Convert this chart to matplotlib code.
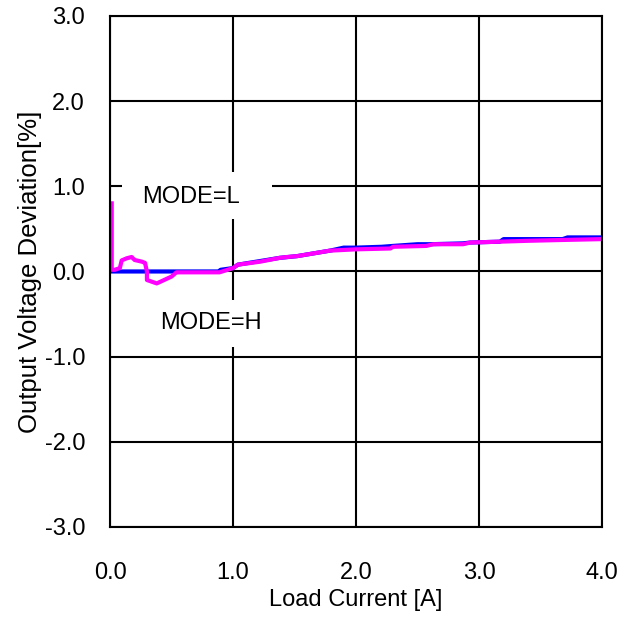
import matplotlib
matplotlib.use("Agg")
import matplotlib.pyplot as plt
from matplotlib.patches import Rectangle

# MODE=L (magenta) and MODE=H (blue) deviation vs load current
x_l = [0.014, 0.014, 0.04, 0.08, 0.095, 0.136, 0.176, 0.20, 0.26, 0.285, 0.30, 0.30, 0.38, 0.50, 0.54,
       0.89, 1.0, 1.04, 1.22, 1.38, 1.44, 1.52, 1.79, 2.0, 2.28, 2.30, 2.57, 2.63, 2.87, 2.93, 3.17,
       3.39, 3.68, 4.0]
y_l = [0.80, 0.02, 0.02, 0.04, 0.13, 0.155, 0.17, 0.135, 0.115, 0.10, 0.0, -0.10, -0.14, -0.06, -0.01,
       -0.01, 0.04, 0.08, 0.115, 0.16, 0.17, 0.18, 0.245, 0.26, 0.27, 0.29, 0.30, 0.32, 0.32, 0.34, 0.35,
       0.36, 0.37, 0.38]

x_h = [0.0, 0.88, 0.90, 1.0, 1.04, 1.38, 1.52, 1.79, 1.90, 2.0, 2.21, 2.30, 2.50, 2.60, 2.87, 2.93,
       3.17, 3.20, 3.39, 3.68, 3.72, 4.0]
y_h = [0.0, 0.0, 0.02, 0.04, 0.08, 0.16, 0.18, 0.245, 0.28, 0.28, 0.29, 0.30, 0.32, 0.32, 0.33, 0.34,
       0.35, 0.38, 0.38, 0.38, 0.40, 0.40]

xticks = [0, 1, 2, 3, 4]
yticks = [-3, -2, -1, 0, 1, 2, 3]

plt.rcParams['font.family'] = ['Liberation Sans', 'DejaVu Sans']

fig = plt.figure(figsize=(6.24, 6.17), dpi=100)
ax = fig.add_axes([0.1763, 0.1459, 0.7884, 0.8282])

ax.set_xlim(0, 4)
ax.set_ylim(-3, 3)
ax.set_xticks(xticks)
ax.set_yticks(yticks)
ax.set_xticklabels([f'{v:.1f}' for v in xticks])
ax.set_yticklabels([f'{v:.1f}' for v in yticks])
ax.tick_params(axis='both', length=0, labelsize=17)
ax.tick_params(axis='x', pad=25)
ax.tick_params(axis='y', pad=18)
ax.grid(True, color='black', linewidth=1.5)
ax.set_axisbelow(True)
for s in ax.spines.values():
    s.set_linewidth(1.5)
    s.set_zorder(5)

ax.plot(x_h, y_h, color='#0000ff', linewidth=3, zorder=3)
ax.plot(x_l, y_l, color='#ff00ff', linewidth=3, zorder=4)

# white label boxes
ax.add_patch(Rectangle((0.098, 0.616), 1.22, 0.552, facecolor='white', edgecolor='none', zorder=2))
ax.add_patch(Rectangle((0.24, -0.89), 1.25, 0.552, facecolor='white', edgecolor='none', zorder=2))
ax.text(0.66, 0.88, 'MODE=L', fontsize=17, ha='center', va='center', zorder=6)
ax.text(0.82, -0.61, 'MODE=H', fontsize=17, ha='center', va='center', zorder=6)

ax.set_xlabel('Load Current [A]', fontsize=17, labelpad=4)
ax.set_ylabel('Output Voltage Deviation[%]', fontsize=18.5, labelpad=2)

fig.savefig('out.png', dpi=100)
